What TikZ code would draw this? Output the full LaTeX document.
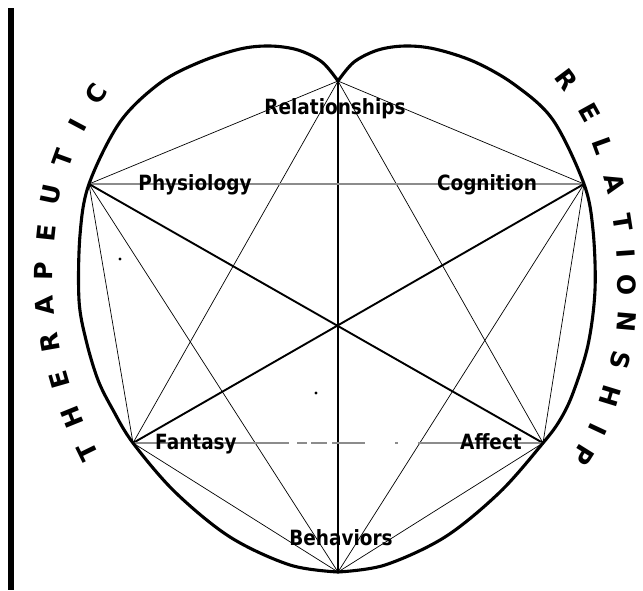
\documentclass[tikz,border=0pt]{standalone}
\usepackage{fontspec}
\newfontfamily\labelfont[FakeStretch=0.88]{DejaVu Sans}
\newfontfamily\arcfont{DejaVu Sans}
\tikzset{
  heartline/.style={line width=3.1pt, line cap=round, line join=round},
  thinedge/.style={line width=0.7pt},
  thickedge/.style={line width=1.9pt},
  grayedge/.style={line width=1.1pt, draw=black!45},
  lbl/.style={font=\labelfont\bfseries\fontsize{21}{23}\selectfont, anchor=base, inner sep=0pt},
  arcl/.style={font=\arcfont\bfseries\fontsize{25}{27}\selectfont, inner sep=0pt},
  speck/.style={fill=black, draw=none},
}
\begin{document}
\begin{tikzpicture}[x=1pt, y=-1pt]
\path[use as bounding box] (0,0) rectangle (643,590);
\fill[white] (0,0) rectangle (643,590);
% left bar
\draw[line width=5.5pt] (11,8) -- (11,590);
% vertices
\coordinate (R) at (338,81);
\coordinate (P) at (89,184);
\coordinate (C) at (584,184);
\coordinate (F) at (133,443);
\coordinate (A) at (543,443);
\coordinate (B) at (338,572);
% edges
\draw[thinedge] (R) -- (P);
\draw[thinedge] (R) -- (C);
\draw[thinedge] (R) -- (F);
\draw[thinedge] (R) -- (A);
\draw[thickedge] (R) -- (B);
\draw[grayedge] (P) -- (C);
\draw[thinedge] (P) -- (F);
\draw[thickedge] (P) -- (A);
\draw[thinedge] (P) -- (B);
\draw[thickedge] (C) -- (F);
\draw[thinedge] (C) -- (A);
\draw[thinedge] (C) -- (B);
\draw[grayedge, dash pattern=on 156pt off 8pt on 10pt off 4pt on 16pt off 5pt on 33pt off 30pt on 3pt off 20pt on 300pt] (F) -- (A);
\draw[thinedge] (F) -- (B);
\draw[thinedge] (A) -- (B);
% heart outline
\draw[heartline] plot[smooth, tension=0.55] coordinates {(338,81) (322,62) (298,50) (270,46) (240,49) (200,62) (160,83) (120,122) (89,184) (80,235) (79,300) (86,340) (98,380) (113,410) (133,443) (175,492) (230,537) (290,565) (338,572)};
\draw[heartline] plot[smooth, tension=0.55] coordinates {(338,81) (354,62) (378,50) (405,46) (435,49) (475,62) (515,85) (553,120) (584,184) (593,230) (595,290) (588,345) (573,393) (560,420) (543,443) (500,492) (445,537) (385,565) (338,572)};
% specks
\fill[speck] (120,259) circle (1.6pt);
\fill[speck] (316,393) circle (1.6pt);
% labels
\node[lbl] (lrel) at (335,114) {Relationships};
\node[lbl] (lphy) at (195,190) {Physiology};
\node[lbl] (lcog) at (487,190) {Cognition};
\node[lbl] (lfan) at (196,449) {Fantasy};
\node[lbl] (laff) at (491,449) {Affect};
\node[lbl] (lbeh) at (341,545) {Behaviors};
% THERAPEUTIC
\node[arcl, rotate=116] (t1) at (88,452) {T};
\node[arcl, rotate=112] (t2) at (72,417) {H};
\node[arcl, rotate=106] (t3) at (59,380) {E};
\node[arcl, rotate=100] (t4) at (50,343) {R};
\node[arcl, rotate=95] (t5) at (45,306) {A};
\node[arcl, rotate=89] (t6) at (44,271) {P};
\node[arcl, rotate=84] (t7) at (46,233) {E};
\node[arcl, rotate=78] (t8) at (51,195) {U};
\node[arcl, rotate=70] (t9) at (63,158) {T};
\node[arcl, rotate=62] (t10) at (78,125) {I};
\node[arcl, rotate=56] (t11) at (96,94) {C};
% RELATIONSHIP
\node[arcl, rotate=-53] (r1) at (567,80) {R};
\node[arcl, rotate=-61] (r2) at (590,113) {E};
\node[arcl, rotate=-70] (r3) at (603,146) {L};
\node[arcl, rotate=-75] (r4) at (615,183) {A};
\node[arcl, rotate=-81] (r5) at (623,222) {T};
\node[arcl, rotate=-86] (r6) at (626,253) {I};
\node[arcl, rotate=-89] (r7) at (627,285) {O};
\node[arcl, rotate=-95] (r8) at (627,322) {N};
\node[arcl, rotate=-103] (r9) at (620,360) {S};
\node[arcl, rotate=-107] (r10) at (610,396) {H};
\node[arcl, rotate=-115] (r11) at (598,430) {I};
\node[arcl, rotate=-122] (r12) at (583,455) {P};
\end{tikzpicture}
\end{document}
